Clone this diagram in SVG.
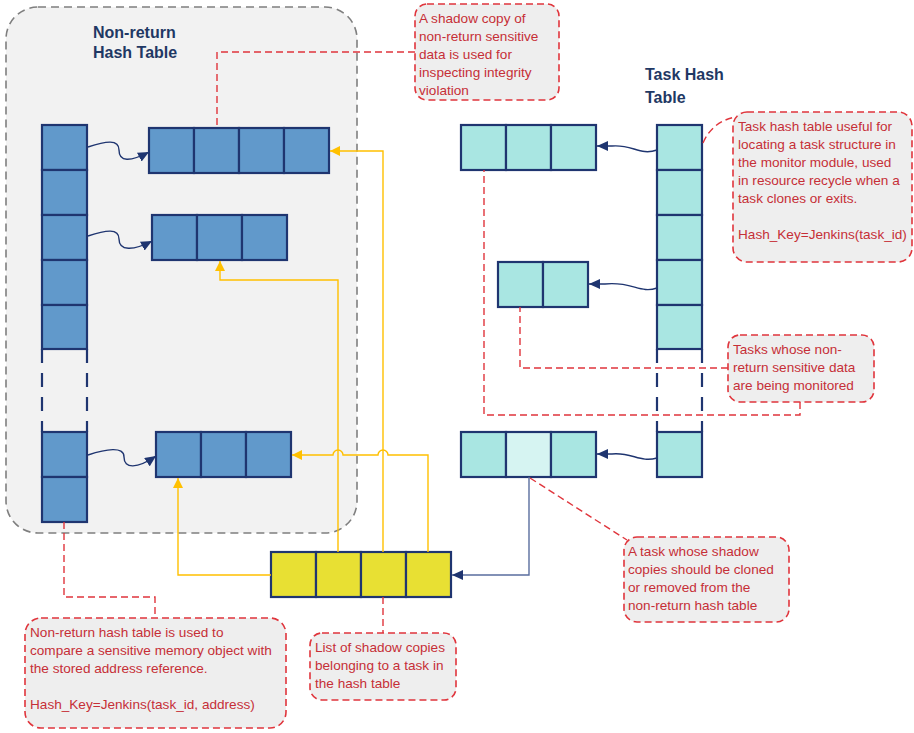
<svg xmlns="http://www.w3.org/2000/svg" width="914" height="733" viewBox="0 0 914 733">
<style>
.blue{fill:#6199CB;stroke:#1F3570;stroke-width:2.2}
.cyan{fill:#A9E6E2;stroke:#1F3570;stroke-width:2.2}
.cyanl{fill:#D6F4F2;stroke:#1F3570;stroke-width:2.2}
.yel{fill:#E8E033;stroke:#1F3570;stroke-width:2.2}
.colgap{stroke:#1F3570;stroke-width:2.2;stroke-dasharray:14,10;fill:none}
.wave{fill:none;stroke:#1F3570;stroke-width:1.4}
.ylw{fill:none;stroke:#FFC000;stroke-width:1.4}
.red{fill:none;stroke:#E0353C;stroke-width:1.4;stroke-dasharray:7,4}
.callout{fill:#EEEEEE;stroke:#E0353C;stroke-width:1.6;stroke-dasharray:7,4}
.ct{font-family:"Liberation Sans",Arial,sans-serif;font-size:13.6px;fill:#C62F37}
.title{font-family:"Liberation Sans",Arial,sans-serif;font-size:16px;font-weight:bold;fill:#1F3864}
</style>
<defs>
<marker id="navyArrow" markerUnits="userSpaceOnUse" markerWidth="12" markerHeight="10" refX="11" refY="5" orient="auto"><path d="M0,0 L11,5 L0,10 z" fill="#1F3570"/></marker>
<marker id="yArrow" markerUnits="userSpaceOnUse" markerWidth="11" markerHeight="10" refX="10" refY="5" orient="auto"><path d="M0,0 L10,5 L0,10 z" fill="#FFC000"/></marker>
</defs>
<rect width="914" height="733" fill="#FFFFFF"/>

<g id="nonreturn-container">
<rect x="6" y="7" width="351" height="526" rx="32" fill="#F2F2F2" stroke="#7F7F7F" stroke-width="1.6" stroke-dasharray="8,5"/>
<text class="title" x="93" y="38">Non-return</text>
<text class="title" x="93" y="58">Hash Table</text>
</g>

<g id="task-title">
<text class="title" x="645" y="80">Task Hash</text>
<text class="title" x="645" y="103">Table</text>
</g>

<g id="nr-column">
<rect class="blue" x="42" y="125" width="45" height="45"/>
<rect class="blue" x="42" y="170" width="45" height="45"/>
<rect class="blue" x="42" y="215" width="45" height="45"/>
<rect class="blue" x="42" y="260" width="45" height="45"/>
<rect class="blue" x="42" y="305" width="45" height="44"/>
<path class="colgap" d="M42,349 V432 M87,349 V432"/>
<rect class="blue" x="42" y="432" width="45" height="45"/>
<rect class="blue" x="42" y="477" width="45" height="45"/>
</g>

<g id="nr-row1">
<rect class="blue" x="149" y="128" width="45" height="45"/>
<rect class="blue" x="194" y="128" width="45" height="45"/>
<rect class="blue" x="239" y="128" width="45" height="45"/>
<rect class="blue" x="284" y="128" width="45" height="45"/>
</g>
<g id="nr-row2">
<rect class="blue" x="152" y="215" width="45" height="45"/>
<rect class="blue" x="197" y="215" width="45" height="45"/>
<rect class="blue" x="242" y="215" width="45" height="45"/>
</g>
<g id="nr-row3">
<rect class="blue" x="156" y="432" width="45" height="45"/>
<rect class="blue" x="201" y="432" width="45" height="45"/>
<rect class="blue" x="246" y="432" width="45" height="45"/>
</g>

<g id="task-column">
<rect class="cyan" x="657" y="125" width="45" height="45"/>
<rect class="cyan" x="657" y="170" width="45" height="45"/>
<rect class="cyan" x="657" y="215" width="45" height="45"/>
<rect class="cyan" x="657" y="260" width="45" height="45"/>
<rect class="cyan" x="657" y="305" width="45" height="44"/>
<path class="colgap" d="M657,349 V432 M702,349 V432"/>
<rect class="cyan" x="657" y="432" width="45" height="45"/>
</g>

<g id="task-row1">
<rect class="cyan" x="461" y="125" width="45" height="45"/>
<rect class="cyan" x="506" y="125" width="45" height="45"/>
<rect class="cyan" x="551" y="125" width="45" height="45"/>
</g>
<g id="task-row2">
<rect class="cyan" x="498" y="262" width="45" height="45"/>
<rect class="cyan" x="543" y="262" width="45" height="45"/>
</g>
<g id="task-row3">
<rect class="cyan" x="461" y="432" width="45" height="45"/>
<rect class="cyanl" x="506" y="432" width="45" height="45"/>
<rect class="cyan" x="551" y="432" width="45" height="45"/>
</g>

<g id="shadow-list">
<rect class="yel" x="271" y="552" width="45" height="45"/>
<rect class="yel" x="316" y="552" width="45" height="45"/>
<rect class="yel" x="361" y="552" width="45" height="45"/>
<rect class="yel" x="406" y="552" width="45" height="45"/>
</g>

<g id="connectors">
<path class="wave" marker-end="url(#navyArrow)" d="M88,147 C106,141 119,139 119,150 C119,162 130,162 149,152"/>
<path class="wave" marker-end="url(#navyArrow)" d="M88,236 C106,230 119,228 119,239 C119,251 133,251 152,241"/>
<path class="wave" marker-end="url(#navyArrow)" d="M88,455 C106,449 124,446 124,457 C124,469 137,469 156,456"/>
<path class="wave" marker-end="url(#navyArrow)" d="M657,150 C640,156 632,144 612,146 L597,146"/>
<path class="wave" marker-end="url(#navyArrow)" d="M657,288 C640,294 632,281 605,284 L589,284"/>
<path class="wave" marker-end="url(#navyArrow)" d="M657,458 C640,463 632,452 612,454 L597,454"/>
<path fill="none" stroke="#5A6E9E" stroke-width="1.4" marker-end="url(#navyArrow)" d="M529,477 V575 H452"/>

<path class="ylw" marker-end="url(#yArrow)" d="M271,575 H178 V478"/>
<path class="ylw" marker-end="url(#yArrow)" d="M338,552 V280 H220 V261"/>
<path class="ylw" marker-end="url(#yArrow)" d="M383,552 V151 H330"/>
<path class="ylw" marker-end="url(#yArrow)" d="M428,552 V455 H388 A5,5 0 0 0 378,455 H343 A5,5 0 0 0 333,455 H292"/>

<path class="red" d="M415,52 H217 V128"/>
<path class="red" d="M703,143 Q712,122 735,117"/>
<path class="red" d="M728,368 H520 V307"/>
<path class="red" d="M800,402 V415 H484 V170"/>
<path class="red" d="M530,478 L627,540"/>
<path class="red" d="M64,522 V597 H155 V618"/>
<path class="red" d="M383,597 V633"/>
</g>

<g id="callout-shadow-copy">
<rect class="callout" x="415" y="4" width="144" height="96" rx="12"/>
<text class="ct" x="419" y="23"><tspan x="419">A shadow copy of</tspan><tspan x="419" dy="18">non-return sensitive</tspan><tspan x="419" dy="18">data is used for</tspan><tspan x="419" dy="18">inspecting integrity</tspan><tspan x="419" dy="18">violation</tspan></text>
</g>

<g id="callout-task-hash">
<rect class="callout" x="733" y="112" width="179" height="150" rx="14"/>
<text class="ct" x="738" y="131"><tspan x="738">Task hash table useful for</tspan><tspan x="738" dy="18">locating a task structure in</tspan><tspan x="738" dy="18">the monitor module, used</tspan><tspan x="738" dy="18">in resource recycle when a</tspan><tspan x="738" dy="18">task clones or exits.</tspan><tspan x="738" dy="36">Hash_Key=Jenkins(task_id)</tspan></text>
</g>

<g id="callout-monitored">
<rect class="callout" x="728" y="335" width="146" height="67" rx="12"/>
<text class="ct" x="733" y="354"><tspan x="733">Tasks whose non-</tspan><tspan x="733" dy="18">return sensitive data</tspan><tspan x="733" dy="18">are being monitored</tspan></text>
</g>

<g id="callout-clone">
<rect class="callout" x="624" y="537" width="165" height="85" rx="13"/>
<text class="ct" x="628" y="556"><tspan x="628">A task whose shadow</tspan><tspan x="628" dy="18">copies should be cloned</tspan><tspan x="628" dy="18">or removed from the</tspan><tspan x="628" dy="18">non-return hash table</tspan></text>
</g>

<g id="callout-nonreturn">
<rect class="callout" x="25" y="618" width="261" height="110" rx="16"/>
<text class="ct" x="30" y="637"><tspan x="30">Non-return hash table is used to</tspan><tspan x="30" dy="18">compare a sensitive memory object with</tspan><tspan x="30" dy="18">the stored address reference.</tspan><tspan x="30" dy="36">Hash_Key=Jenkins(task_id, address)</tspan></text>
</g>

<g id="callout-list">
<rect class="callout" x="310" y="633" width="146" height="67" rx="12"/>
<text class="ct" x="315" y="652"><tspan x="315">List of shadow copies</tspan><tspan x="315" dy="18">belonging to a task in</tspan><tspan x="315" dy="18">the hash table</tspan></text>
</g>
</svg>
